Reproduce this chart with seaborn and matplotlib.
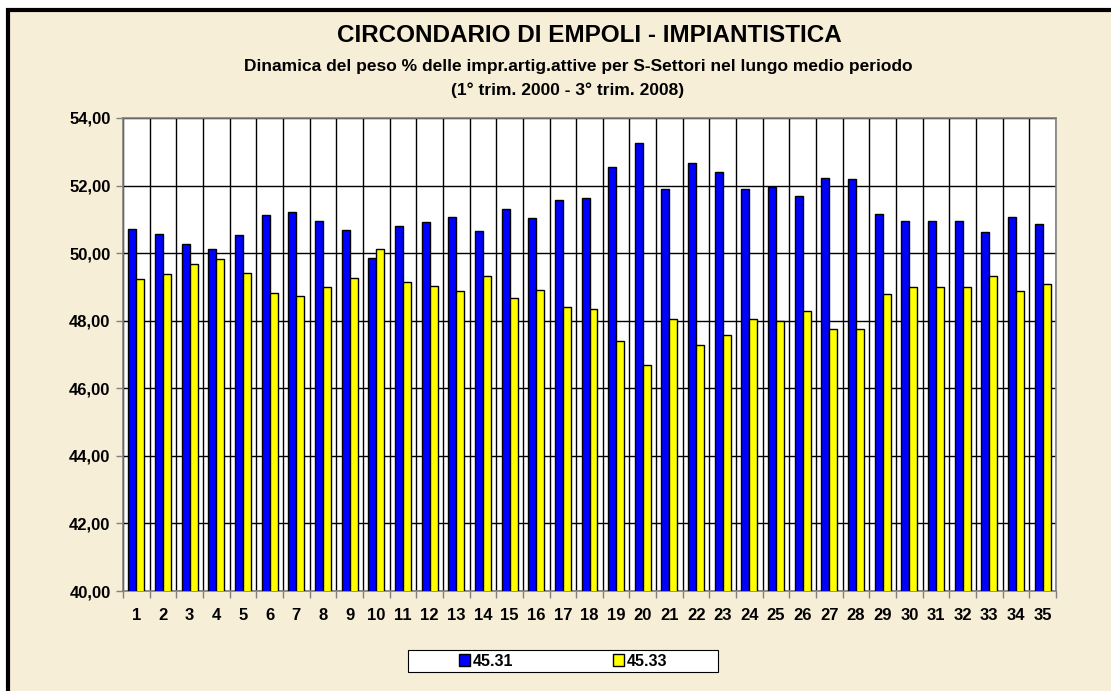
import pandas as pd
import matplotlib.pyplot as plt
import seaborn as sns
from matplotlib.patches import Rectangle

# dati: trimestri 1..35 (1° trim. 2000 - 3° trim. 2008)
trimestri = [str(i) for i in range(1, 36)]
serie_4531 = [50.71, 50.56, 50.27, 50.12, 50.54, 51.12, 51.23, 50.96, 50.69, 49.85,
              50.80, 50.92, 51.06, 50.65, 51.30, 51.04, 51.56, 51.62, 52.55, 53.27,
              51.91, 52.68, 52.39, 51.91, 51.96, 51.68, 52.22, 52.19, 51.17, 50.95,
              50.96, 50.95, 50.63, 51.08, 50.86]
serie_4533 = [49.24, 49.39, 49.68, 49.83, 49.41, 48.83, 48.73, 49.00, 49.26, 50.11,
              49.16, 49.04, 48.89, 49.31, 48.66, 48.91, 48.40, 48.34, 47.40, 46.69,
              48.04, 47.27, 47.57, 48.04, 47.99, 48.28, 47.74, 47.76, 48.79, 49.00,
              49.00, 49.00, 49.33, 48.88, 49.09]
nomi_serie = ['45.31', '45.33']
y_ticks = [40, 42, 44, 46, 48, 50, 52, 54]

df = pd.DataFrame({
    'trim': trimestri * 2,
    'valore': serie_4531 + serie_4533,
    'serie': [nomi_serie[0]] * 35 + [nomi_serie[1]] * 35,
})

sns.set_style('white')
plt.rcParams['font.family'] = ['Liberation Sans', 'DejaVu Sans']
plt.rcParams['font.weight'] = 'bold'
plt.rcParams['text.color'] = 'black'
plt.rcParams['xtick.color'] = 'black'
plt.rcParams['ytick.color'] = 'black'

sfondo = '#f7eed7'
fig = plt.figure(figsize=(11.11, 6.91), dpi=100)
fig.patch.set_facecolor('white')
# cornice nera + sfondo pergamena
fig.patches.append(Rectangle((8 / 1111, -0.1), 1.2, 1 - 10 / 691 + 0.1,
                             transform=fig.transFigure, facecolor=sfondo,
                             edgecolor='black', linewidth=3, zorder=-5))
# riquadro della legenda
fig.patches.append(Rectangle((408 / 1111, 1 - 672 / 691), 310 / 1111, 22 / 691,
                             transform=fig.transFigure, facecolor='white',
                             edgecolor='black', linewidth=0.8, zorder=-4))

ax = fig.add_axes([123 / 1111, 1 - 591 / 691, 933 / 1111, 473 / 691])
ax.set_facecolor('white')

sns.barplot(data=df, x='trim', y='valore', hue='serie',
            palette=['#0000ff', '#ffff00'], saturation=1,
            edgecolor='black', linewidth=1, width=0.6, ax=ax, zorder=3)

ax.set_ylim(40, 54)
ax.set_xlim(-0.5, 34.5)
ax.set_yticks(y_ticks)
ax.set_yticklabels([f'{v:.2f}'.replace('.', ',') for v in y_ticks])
ax.set_xticks(range(35))
ax.set_xticklabels(trimestri)
ax.set_xticks([i - 0.5 for i in range(36)], minor=True)

ax.set_axisbelow(True)
ax.grid(True, axis='y', which='major', color='black', linewidth=1)
ax.grid(True, axis='x', which='minor', color='black', linewidth=1)
ax.grid(False, axis='x', which='major')

ax.tick_params(axis='x', which='major', length=0, pad=12, labelsize=12)
ax.tick_params(axis='x', which='minor', length=5, color='#808080', width=1,
               direction='out', bottom=True)
ax.tick_params(axis='y', length=5, color='#808080', width=1, direction='out',
               left=True, pad=4, labelsize=12)
for lab in ax.get_xticklabels() + ax.get_yticklabels():
    lab.set_fontweight('bold')

for sp in ax.spines.values():
    sp.set_color('#808080')
    sp.set_linewidth(1.2)

ax.set_xlabel('')
ax.set_ylabel('')

ax.legend_.remove()
handles, labels = ax.get_legend_handles_labels()
leg = fig.legend(handles[:2], nomi_serie, loc='center', bbox_to_anchor=(563 / 1111, 1 - 661 / 691),
                 ncol=2, frameon=False, columnspacing=6.2,
                 handlelength=0.7, handleheight=0.7, handletextpad=0.2,
                 borderpad=0.2, prop={'weight': 'bold', 'size': 11.5})

fig.text(589 / 1111, 1 - 35 / 691, 'CIRCONDARIO DI EMPOLI - IMPIANTISTICA',
         ha='center', va='center', fontsize=17.5, fontweight='bold')
fig.text(578 / 1111, 1 - 66 / 691,
         'Dinamica del peso % delle impr.artig.attive per S-Settori nel lungo medio periodo',
         ha='center', va='center', fontsize=12.5, fontweight='bold')
fig.text(568 / 1111, 1 - 90 / 691, '(1° trim. 2000 - 3° trim. 2008)',
         ha='center', va='center', fontsize=12.5, fontweight='bold')

fig.savefig('out.png', dpi=100, facecolor=fig.get_facecolor())
